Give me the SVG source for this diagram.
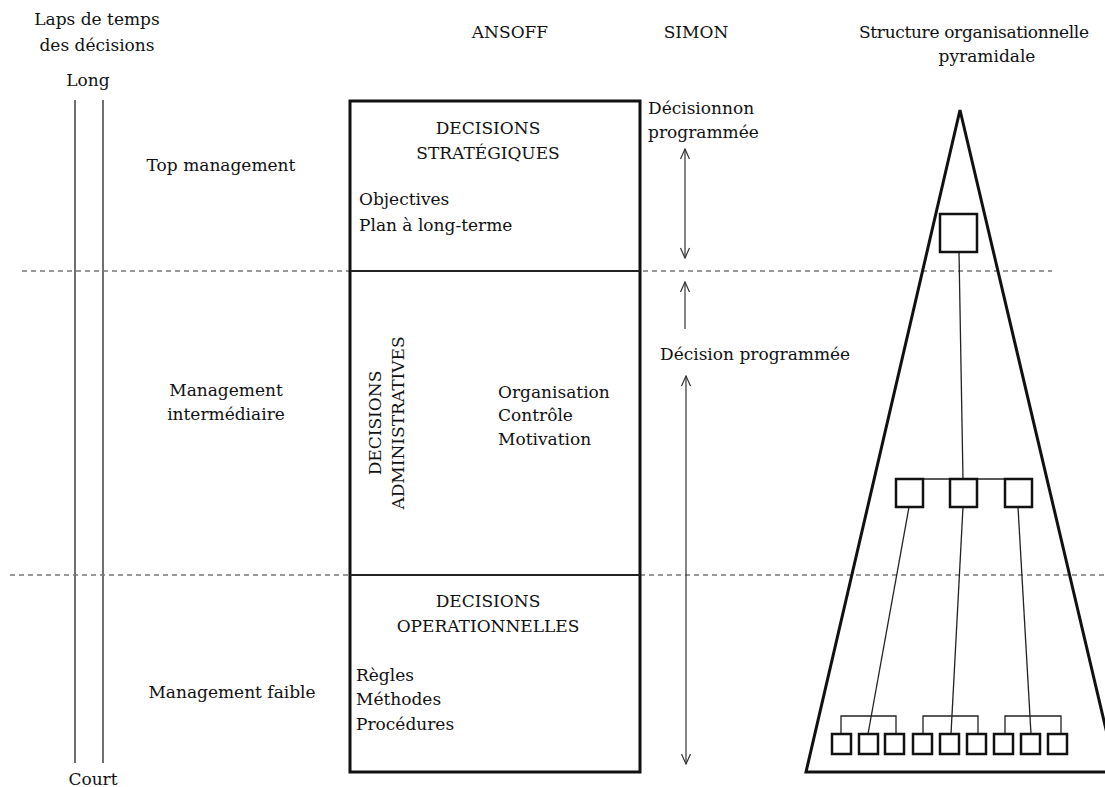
<svg xmlns="http://www.w3.org/2000/svg" width="1105" height="787" viewBox="0 0 1105 787">
<defs>
<style>
text{font-family:"DejaVu Serif","Liberation Serif",serif;font-size:17px;fill:#111}
.c{text-anchor:middle}
.dash{stroke:#777;stroke-width:1.3;stroke-dasharray:5 4;fill:none}
.thin{stroke:#222;stroke-width:1.3;fill:none}
.box{stroke:#111;stroke-width:3;fill:none}
.sq{stroke:#111;stroke-width:2.5;fill:#fff}
.arr{stroke:#333;stroke-width:1.2;fill:none}
</style>
<marker id="ah" viewBox="0 0 12 12" refX="11" refY="6" markerWidth="12" markerHeight="12" markerUnits="userSpaceOnUse" orient="auto-start-reverse">
<path d="M1,1.5 L11,6 L1,10.5" fill="none" stroke="#333" stroke-width="1.2"/>
</marker>
</defs>
<rect width="1105" height="787" fill="#fff"/>

<g id="headers">
<text x="97" y="25" class="c">Laps de temps</text>
<text x="97" y="51" class="c">des décisions</text>
<text x="88" y="86" class="c">Long</text>
<text x="510" y="38" class="c">ANSOFF</text>
<text x="696" y="38" class="c">SIMON</text>
<text x="974" y="38" class="c" textLength="230">Structure organisationnelle</text>
<text x="987" y="62" class="c">pyramidale</text>
<text x="93" y="785" class="c">Court</text>
</g>

<g id="time-axis">
<line x1="75" y1="100" x2="75" y2="763" class="thin" stroke-width="2"/>
<line x1="103" y1="100" x2="103" y2="763" class="thin" stroke-width="2"/>
</g>

<g id="levels">
<line x1="22" y1="271" x2="1052" y2="271" class="dash"/>
<line x1="10" y1="575" x2="1105" y2="575" class="dash"/>
<text x="221" y="171" class="c">Top management</text>
<text x="226" y="396" class="c">Management</text>
<text x="226" y="420" class="c">intermédiaire</text>
<text x="232" y="698" class="c">Management faible</text>
</g>

<g id="ansoff">
<rect x="350" y="101" width="290" height="671" class="box"/>
<line x1="350" y1="271" x2="640" y2="271" stroke="#222" stroke-width="2"/>
<line x1="350" y1="575" x2="640" y2="575" stroke="#222" stroke-width="2"/>
<g id="strategiques">
<text x="488" y="134" class="c">DECISIONS</text>
<text x="488" y="159" class="c">STRATÉGIQUES</text>
<text x="359" y="205">Objectives</text>
<text x="359" y="231">Plan à long-terme</text>
</g>
<g id="administratives">
<text transform="translate(381,423) rotate(-90)" class="c">DECISIONS</text>
<text transform="translate(404,423) rotate(-90)" class="c">ADMINISTRATIVES</text>
<text x="498" y="398">Organisation</text>
<text x="498" y="421">Contrôle</text>
<text x="498" y="445">Motivation</text>
</g>
<g id="operationnelles">
<text x="488" y="607" class="c">DECISIONS</text>
<text x="488" y="632" class="c">OPERATIONNELLES</text>
<text x="356" y="681">Règles</text>
<text x="356" y="705">Méthodes</text>
<text x="356" y="730">Procédures</text>
</g>
</g>

<g id="simon">
<text x="648" y="114">Décisionnon</text>
<text x="648" y="138">programmée</text>
<text x="660" y="360">Décision programmée</text>
</g>

<g id="connectors">
<line x1="685" y1="149" x2="685" y2="258" class="arr" marker-start="url(#ah)" marker-end="url(#ah)"/>
<line x1="685" y1="329" x2="685" y2="282" class="arr" marker-end="url(#ah)"/>
<line x1="686" y1="376" x2="686" y2="764" class="arr" marker-start="url(#ah)" marker-end="url(#ah)"/>
</g>

<g id="pyramid">
<polygon points="960,110 806,772 1116,772" class="box" stroke-linejoin="miter"/>
<g id="pyr-links">
<line x1="959" y1="252" x2="963" y2="479" class="thin"/>
<line x1="909" y1="479" x2="1019" y2="479" class="thin"/>
<line x1="909" y1="507" x2="868" y2="734" class="thin"/>
<line x1="963" y1="507" x2="951" y2="734" class="thin"/>
<line x1="1018" y1="507" x2="1031" y2="734" class="thin"/>
<path d="M841,734 V716 H896 V734" class="thin"/>
<path d="M923,734 V716 H978 V734" class="thin"/>
<path d="M1005,734 V716 H1061 V734" class="thin"/>
</g>
<g id="top-node"><rect x="940" y="214" width="37" height="38" class="sq"/></g>
<g id="mid-nodes">
<rect x="896" y="479" width="27" height="28" class="sq"/>
<rect x="950" y="479" width="27" height="28" class="sq"/>
<rect x="1005" y="479" width="27" height="28" class="sq"/>
</g>
<g id="base-nodes">
<rect x="832" y="734" width="19" height="20" class="sq"/>
<rect x="859" y="734" width="19" height="20" class="sq"/>
<rect x="885" y="734" width="19" height="20" class="sq"/>
<rect x="913" y="734" width="19" height="20" class="sq"/>
<rect x="940" y="734" width="19" height="20" class="sq"/>
<rect x="967" y="734" width="19" height="20" class="sq"/>
<rect x="994" y="734" width="19" height="20" class="sq"/>
<rect x="1021" y="734" width="19" height="20" class="sq"/>
<rect x="1048" y="734" width="19" height="20" class="sq"/>
</g>
</g>
</svg>
